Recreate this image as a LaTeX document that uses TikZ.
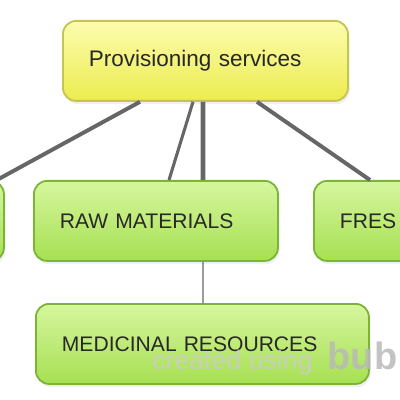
\documentclass[tikz,border=0pt]{standalone}
\usepackage{fontspec}
\setmainfont{Liberation Sans}
\usepackage{xcolor}
\usetikzlibrary{positioning, calc, shadows}

\definecolor{provtop}{RGB}{252,252,175}
\definecolor{provbottom}{RGB}{236,236,78}
\definecolor{provborder}{RGB}{196,196,80}
\definecolor{leaftop}{RGB}{214,246,158}
\definecolor{leafbottom}{RGB}{166,224,82}
\definecolor{leafborder}{RGB}{122,182,52}
\definecolor{linkgray}{RGB}{102,102,102}
\definecolor{textgray}{RGB}{40,40,40}

\begin{document}
\begin{tikzpicture}[
    box/.style={draw, line width=1.3pt, rounded corners=0.33cm, anchor=north west,
        minimum height=2cm, inner xsep=0.65cm, inner ysep=0pt, align=left,
        text=textgray, font=\fontsize{15}{18}\selectfont,
        drop shadow={shadow xshift=0.04cm, shadow yshift=-0.08cm, opacity=0.12}},
    yellowbox/.style={box, draw=provborder, top color=provtop, bottom color=provbottom},
    greenbox/.style={box, draw=leafborder, top color=leaftop, bottom color=leafbottom},
    link/.style={draw=linkgray, line width=2.8pt},
    twig/.style={draw=linkgray, line width=1pt},
    watermark/.style={inner sep=0pt, anchor=base west, text=gray!40, opacity=0.85},
]
\useasboundingbox (0,0) rectangle (10,-10);
\clip (0,0) rectangle (10,-10);

% Root
\node[yellowbox, text width=5.825cm, font=\fontsize{16}{19}\selectfont] (prov) at (1.55,-0.5) {Provisioning services};

% Children
\node[greenbox, text width=4.8cm, minimum width=6.1cm] (left) at (-6.025,-4.5) {};
\node[greenbox, text width=4.8cm] (raw) at (0.825,-4.5) {RAW MATERIALS};
\node[greenbox, text width=4.8cm] (fresh) at (7.825,-4.5) {FRES};
\node[greenbox, text width=7.025cm] (med) at (0.875,-7.575) {MEDICINAL RESOURCES};

% Root-to-child links
\draw[link] ($(prov.south west)+(1.95,0)$) -- ($(left.north east)+(-0.2,0)$);
\draw[link, line width=2.2pt] ($(prov.south west)+(3.275,0)$) -- ($(raw.north west)+(3.4,0)$);
\draw[link, line width=3.5pt] ($(prov.south west)+(3.525,0)$) -- ($(raw.north west)+(4.25,0)$);
\draw[link] ($(prov.south west)+(4.875,0)$) -- ($(fresh.north west)+(1.425,0)$);

% Child-to-child link
\draw[twig] ($(raw.south west)+(4.25,0)$) -- ($(med.north west)+(4.2,0)$);

% Watermark
\node[watermark, font=\fontsize{19}{22}\selectfont] (mark) at (3.8,-9.24) {created using};
\node[watermark, text=gray!55, font=\fontsize{27}{29}\selectfont\bfseries] (logo) at ($(mark.base east)+(0.36,0)$) {bub};

\end{tikzpicture}
\end{document}
